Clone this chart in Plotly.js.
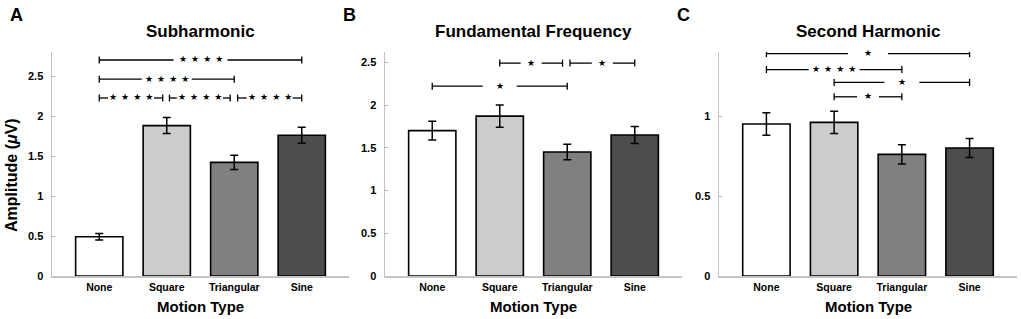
<!DOCTYPE html>
<html>
<head>
<meta charset="utf-8">
<script src="https://cdn.plot.ly/plotly-3.0.1.min.js"></script>
<style>html,body{margin:0;padding:0;background:#fff;}#chart{width:1021px;height:319px;}</style>
</head>
<body>
<div id="chart"></div>
<script>
// ---- data ----
const categories = ['None', 'Square', 'Triangular', 'Sine'];
const barColors = ['#ffffff', '#cccccc', '#808080', '#4d4d4d'];

const subMean = [0.49, 1.88, 1.42, 1.76];
const subErr  = [0.04, 0.10, 0.09, 0.10];
const funMean = [1.70, 1.87, 1.45, 1.65];
const funErr  = [0.11, 0.13, 0.09, 0.10];
const secMean = [0.95, 0.96, 0.76, 0.80];
const secErr  = [0.07, 0.07, 0.06, 0.06];

const panelTitles = ['Subharmonic', 'Fundamental Frequency', 'Second Harmonic'];
const panelLetters = ['A', 'B', 'C'];

// significance comparisons: [from, to, height, label]
const subSig = [[0, 3, 2.70, '****'], [0, 2, 2.46, '****'], [0, 0.94, 2.225, '****'], [1.04, 1.94, 2.225, '****'], [2.05, 3, 2.225, '****']];
const funSig = [[1, 1.93, 2.49, '*'], [2.04, 3, 2.49, '*'], [0, 2, 2.22, '*']];
const secSig = [[0, 3, 1.39, '*'], [0, 2, 1.29, '****'], [1, 3, 1.21, '*'], [1, 2, 1.12, '*']];

// ---- style ----
// width (px) of the gap left in each significance line for its stars
const subGap = [54, 50, 46, 46, 46];
const funGap = [21, 21, 34];
const secGap = [40, 51, 35, 22];
const yRanges = [[0, 2.8], [0, 2.62], [0, 1.4]];
const yTicks = [[0, 0.5, 1, 1.5, 2, 2.5], [0, 0.5, 1, 1.5, 2, 2.5], [0, 0.5, 1]];
const xRange = [-0.7, 3.7];
const xDomains = [[52/1021, 349/1021], [385/1021, 682/1021], [719/1021, 1017/1021]];
const yDomain = [43/319, 267/319];
const FONT = 'Arial, "Liberation Sans", sans-serif';

const means = [subMean, funMean, secMean];
const errs = [subErr, funErr, secErr];
const sigs = [subSig, funSig, secSig];
const gaps = [subGap, funGap, secGap];

const xIdx = categories.map((c, i) => i);
const traces = [];
const layout = {
  width: 1021, height: 319,
  margin: {l: 0, r: 0, t: 0, b: 0},
  paper_bgcolor: '#fff', plot_bgcolor: '#fff',
  showlegend: false,
  font: {family: FONT, color: '#000'},
  shapes: [], annotations: []
};

const sigLine = {color: '#000', width: 1.3};

for (let p = 0; p < 3; p++) {
  const sfx = p === 0 ? '' : String(p + 1);
  const xa = 'x' + sfx, ya = 'y' + sfx;
  const pxPerUnit = (xDomains[p][1] - xDomains[p][0]) * layout.width / (xRange[1] - xRange[0]);
  traces.push({
    type: 'bar', x: xIdx, y: means[p], width: 0.7,
    xaxis: xa, yaxis: ya,
    marker: {color: barColors, line: {color: '#000', width: 1.6}},
    error_y: {type: 'data', array: errs[p], visible: true, color: '#000', thickness: 1.5, width: 4},
    hoverinfo: 'skip', cliponaxis: false
  });
  layout['xaxis' + sfx] = {
    domain: xDomains[p], anchor: ya, range: xRange,
    tickvals: xIdx, ticktext: categories, ticks: '',
    tickfont: {size: 10.5, weight: 'bold', family: FONT, color: '#000'},
    ticklabelstandoff: 1,
    showline: true, linecolor: '#c4c4c4', linewidth: 1.5,
    showgrid: false, zeroline: false, fixedrange: true
  };
  layout['yaxis' + sfx] = {
    domain: yDomain, anchor: xa, range: yRanges[p],
    tickvals: yTicks[p], ticktext: yTicks[p].map(String),
    ticks: 'inside', ticklen: 3, tickwidth: 1, tickcolor: '#b0b0b0',
    tickfont: {size: 11, weight: 'bold', family: FONT, color: '#000'},
    ticklabelstandoff: 5,
    showline: true, linecolor: '#c4c4c4', linewidth: 1.5,
    showgrid: false, zeroline: false, fixedrange: true
  };
  // panel title
  layout.annotations.push({
    xref: xa + ' domain', yref: 'paper', x: 0.5, y: 1 - 32/319,
    xanchor: 'center', yanchor: 'middle', showarrow: false,
    text: panelTitles[p], font: {size: 17, weight: 'bold', family: FONT, color: '#000'}
  });
  // panel letter
  layout.annotations.push({
    xref: xa + ' domain', yref: 'paper', x: -44/297, y: 1 - 15/319,
    xanchor: 'left', yanchor: 'middle', showarrow: false,
    text: panelLetters[p], font: {size: 18, weight: 'bold', family: FONT, color: '#000'}
  });
  // x title
  layout.annotations.push({
    xref: xa + ' domain', yref: 'paper', x: 0.5, y: 1 - 306/319,
    xanchor: 'center', yanchor: 'middle', showarrow: false,
    text: 'Motion Type', font: {size: 15, weight: 'bold', family: FONT, color: '#000'}
  });
  // significance bars
  sigs[p].forEach((s, k) => {
    const [a, b, h, lab] = s;
    const mid = (a + b) / 2;
    const half = gaps[p][k] / 2 / pxPerUnit;
    layout.shapes.push({type: 'line', xref: xa, yref: ya, x0: a, x1: mid - half, y0: h, y1: h, line: sigLine, layer: 'above'});
    layout.shapes.push({type: 'line', xref: xa, yref: ya, x0: mid + half, x1: b, y0: h, y1: h, line: sigLine, layer: 'above'});
    [a, b].forEach(xx => layout.shapes.push({
      type: 'line', xref: xa, yref: ya, ysizemode: 'pixel', yanchor: h,
      x0: xx, x1: xx, y0: -3.5, y1: 3.5, line: sigLine, layer: 'above'
    }));
    const stars = lab.split('').map(() => '★').join('\u2005\u2009');
    layout.annotations.push({
      xref: xa, yref: ya, x: mid, y: h, xanchor: 'center', yanchor: 'middle',
      showarrow: false, borderpad: 0, yshift: 0.5,
      text: stars, font: {size: 9, family: '"DejaVu Sans", sans-serif', color: '#000'}
    });
  });
}

// y axis title
layout.annotations.push({
  xref: 'paper', yref: 'paper', x: 11/1021, y: 1 - 175/319,
  xanchor: 'center', yanchor: 'middle', showarrow: false, textangle: -90,
  text: 'Amplitude (<i>μ</i>V)', font: {size: 16, weight: 'bold', family: FONT, color: '#000'}
});

Plotly.newPlot('chart', traces, layout, {staticPlot: true, displayModeBar: false});
</script>
</body>
</html>
